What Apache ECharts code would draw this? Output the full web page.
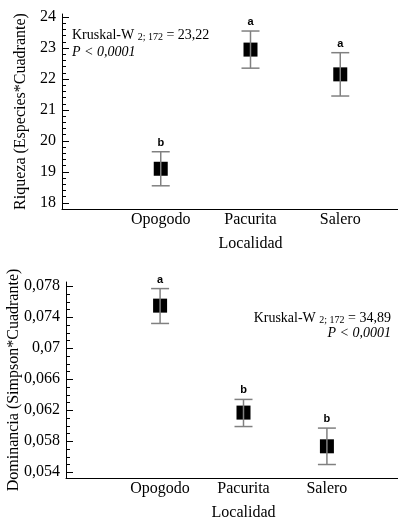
<!DOCTYPE html>
<html>
<head>
<meta charset="utf-8">
<script src="https://cdn.jsdelivr.net/npm/echarts@6/dist/echarts.min.js"></script>
<style>
  body { margin: 0; background: #fff; }
  #chart { width: 398px; height: 530px; }
</style>
</head>
<body>
<div id="chart"></div>
<script>
const categories = ["Opogodo", "Pacurita", "Salero"];
const categoryPos = [1, 2, 3];

const riquezaMean = [19.1, 22.95, 22.15];
const riquezaLow = [18.55, 22.35, 21.45];
const riquezaHigh = [19.65, 23.55, 22.85];
const riquezaLetters = ["b", "a", "a"];
const riquezaTicks = [18, 19, 20, 21, 22, 23, 24];

const dominanciaMean = [0.0755, 0.0617, 0.05735];
const dominanciaLow = [0.0732, 0.0599, 0.0550];
const dominanciaHigh = [0.0777, 0.0634, 0.0597];
const dominanciaLetters = ["a", "b", "b"];
const dominanciaTicks = [0.054, 0.058, 0.062, 0.066, 0.07, 0.074, 0.078];

const serif = "'Liberation Serif', 'Times New Roman', serif";

// minor tick positions between the major ticks
function subdivide(ticks, parts) {
  const out = [];
  for (let i = 0; i < ticks.length - 1; i++) {
    const step = (ticks[i + 1] - ticks[i]) / parts;
    for (let k = 1; k < parts; k++) out.push(ticks[i] + step * k);
  }
  return out;
}

function buildData(mean, low, high, letters) {
  return categoryPos.map((x, i) => [x, mean[i], low[i], high[i], letters[i]]);
}

function renderErrorBar(params, api) {
  const x = api.value(0);
  const pm = api.coord([x, api.value(1)]);
  const pl = api.coord([x, api.value(2)]);
  const ph = api.coord([x, api.value(3)]);
  const letter = api.value(4);
  const grey = "#808080";
  return {
    type: "group",
    children: [
      { type: "rect", shape: { x: pm[0] - 7, y: pm[1] - 7, width: 14, height: 14 }, style: { fill: "#000" } },
      { type: "line", shape: { x1: pm[0], y1: pl[1], x2: pm[0], y2: ph[1] }, style: { stroke: grey, lineWidth: 1.5 } },
      { type: "line", shape: { x1: pm[0] - 9, y1: pl[1], x2: pm[0] + 9, y2: pl[1] }, style: { stroke: grey, lineWidth: 1.5 } },
      { type: "line", shape: { x1: pm[0] - 9, y1: ph[1], x2: pm[0] + 9, y2: ph[1] }, style: { stroke: grey, lineWidth: 1.5 } },
      {
        type: "text",
        style: {
          x: pm[0], y: ph[1] - 9, text: letter, align: "center", verticalAlign: "middle",
          font: "bold 11px 'Liberation Sans', Arial, sans-serif", fill: "#000"
        }
      }
    ]
  };
}

function xAxisFor(gridIndex, min, max) {
  return {
    type: "value",
    gridIndex: gridIndex,
    min: min,
    max: max,
    name: "Localidad",
    nameLocation: "middle",
    nameGap: 27,
    nameTextStyle: { fontFamily: serif, fontSize: 16, color: "#000" },
    axisLine: { onZero: false, lineStyle: { color: "#000", width: 1 } },
    axisTick: { show: false },
    splitLine: { show: false },
    axisLabel: {
      customValues: categoryPos,
      formatter: (v) => categories[v - 1],
      fontFamily: serif, fontSize: 16, color: "#000", margin: 3
    }
  };
}

function yAxisMajor(gridIndex, min, max, ticks, name, nameGap) {
  return {
    type: "value",
    gridIndex: gridIndex,
    position: "left",
    min: min,
    max: max,
    name: name,
    nameLocation: "middle",
    nameGap: nameGap,
    nameMoveOverlap: false,
    nameTextStyle: { fontFamily: serif, fontSize: 16, color: "#000" },
    axisLine: { show: true, onZero: false, lineStyle: { color: "#000", width: 1 } },
    axisTick: { show: true, inside: true, length: 7, customValues: ticks, lineStyle: { color: "#000" } },
    splitLine: { show: false },
    axisLabel: {
      customValues: ticks,
      formatter: (v) => String(v).replace(".", ","),
      fontFamily: serif, fontSize: 16, color: "#000", margin: 6
    }
  };
}

function yAxisMinor(gridIndex, min, max, ticks, parts) {
  return {
    type: "value",
    gridIndex: gridIndex,
    position: "left",
    offset: 0,
    min: min,
    max: max,
    axisLine: { show: false, onZero: false },
    axisTick: { show: true, inside: true, length: 4, customValues: subdivide(ticks, parts), lineStyle: { color: "#000" } },
    axisLabel: { show: false },
    splitLine: { show: false }
  };
}

var chartDom = document.getElementById("chart");
var myChart = echarts.init(chartDom);
var option = {
  animation: false,
  backgroundColor: "#fff",
  grid: [
    { left: 62, top: 14, height: 195, right: -41, containLabel: false, outerBoundsMode: "none" },
    { left: 66, top: 282, height: 196, right: -23, containLabel: false, outerBoundsMode: "none" }
  ],
  xAxis: [xAxisFor(0, -0.1, 4.1), xAxisFor(1, -0.128, 4.128)],
  yAxis: [
    yAxisMajor(0, 17.8, 24.1, riquezaTicks, "Riqueza (Especies*Cuadrante)", 33),
    yAxisMinor(0, 17.8, 24.1, riquezaTicks, 5),
    yAxisMajor(1, 0.05326, 0.07855, dominanciaTicks, "Dominancia (Simpson*Cuadrante)", 44),
    yAxisMinor(1, 0.05326, 0.07855, dominanciaTicks, 4)
  ],
  graphic: [
    {
      type: "text", x: 72, y: 35,
      style: {
        text: "{n|Kruskal-W }{s|2; 172}{n| = 23,22}", verticalAlign: "middle",
        rich: { n: { fontFamily: serif, fontSize: 14, color: "#000" }, s: { fontFamily: serif, fontSize: 10, color: "#000", padding: [4, 0, 0, 0] } }
      }
    },
    {
      type: "text", x: 72, y: 52,
      style: { text: "P < 0,0001", verticalAlign: "middle", font: "italic 14px " + serif, fill: "#000" }
    },
    {
      type: "text", x: 391, y: 318,
      style: {
        text: "{n|Kruskal-W }{s|2; 172}{n| = 34,89}", align: "right", verticalAlign: "middle",
        rich: { n: { fontFamily: serif, fontSize: 14, color: "#000" }, s: { fontFamily: serif, fontSize: 10, color: "#000", padding: [4, 0, 0, 0] } }
      }
    },
    {
      type: "text", x: 391, y: 333,
      style: { text: "P < 0,0001", align: "right", verticalAlign: "middle", font: "italic 14px " + serif, fill: "#000" }
    }
  ],
  series: [
    {
      type: "custom",
      xAxisIndex: 0,
      yAxisIndex: 0,
      renderItem: renderErrorBar,
      encode: { x: 0, y: 1 },
      data: buildData(riquezaMean, riquezaLow, riquezaHigh, riquezaLetters)
    },
    {
      type: "custom",
      xAxisIndex: 1,
      yAxisIndex: 2,
      renderItem: renderErrorBar,
      encode: { x: 0, y: 1 },
      data: buildData(dominanciaMean, dominanciaLow, dominanciaHigh, dominanciaLetters)
    }
  ]
};

if (option && typeof option === "object") {
  myChart.setOption(option);
}
</script>
</body>
</html>
